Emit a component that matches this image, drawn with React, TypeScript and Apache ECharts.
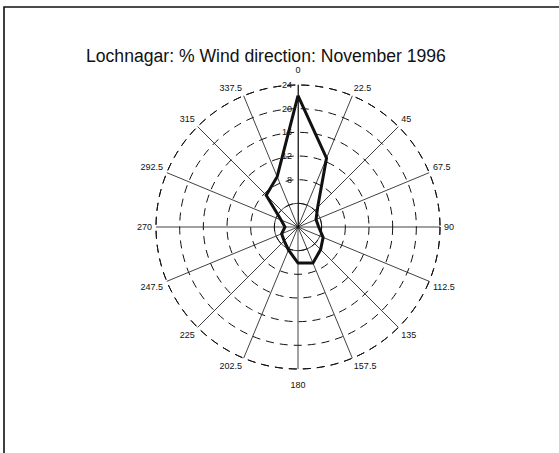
import React, { useEffect, useRef } from "react";
import * as echarts from "echarts";

const titleText = "Lochnagar: % Wind direction: November 1996";
const directions = [0, 22.5, 45, 67.5, 90, 112.5, 135, 157.5, 180, 202.5, 225, 247.5, 270, 292.5, 315, 337.5];
const percent = [22.2, 12.6, 4.7, 3.3, 3.5, 4.6, 5.4, 6.6, 6.1, 4.2, 3.3, 3.0, 2.2, 3.1, 7.6, 9.2];
const radiusTicks = [8, 12, 16, 20, 24];

const FONT = "'Liberation Sans', Arial, Helvetica, sans-serif";

export default function App() {
  const ref = useRef<HTMLDivElement>(null);
  useEffect(() => {
    document.body.style.margin = "0";
    const chart = echarts.init(ref.current!, null, { renderer: "svg" });
    const data: number[][] = directions.map((d, i) => [percent[i], d]);
    data.push([percent[0], 360]);
    const center = [298, 227];
    const R = 142;
    chart.setOption({
      animation: false,
      backgroundColor: "#fff",
      title: {
        text: titleText,
        left: 81,
        top: 42,
        textStyle: { fontFamily: FONT, fontSize: 17.6, lineHeight: 18, fontWeight: "normal", color: "#111" },
      },
      graphic: [
        {
          type: "rect",
          shape: { x: 4, y: 7, width: 600, height: 500 },
          style: { fill: "none", stroke: "#111", lineWidth: 1.6 },
          silent: true,
        },
      ],
      polar: [
        { center, radius: R },
        { center, radius: (R * 4) / 24 },
      ],
      angleAxis: [
        {
          polarIndex: 0,
          type: "value",
          min: 0,
          max: 360,
          interval: 22.5,
          startAngle: 90,
          clockwise: true,
          axisLine: { show: true, lineStyle: { color: "#111", width: 1, type: [8, 6] } },
          axisTick: { show: false },
          splitLine: { show: true, lineStyle: { color: "#111", width: 0.8 } },
          axisLabel: {
            margin: 4,
            color: "#111",
            fontFamily: FONT,
            fontSize: 9,
            formatter: (v: number) => {
              if (v === 360) return "";
              if (v === 0) return "{t|0}";
              if (v === 180) return "{b|180}";
              return String(v);
            },
            rich: {
              t: { padding: [0, 0, 7, 0], fontSize: 9, fontFamily: FONT, color: "#111" },
              b: { padding: [7, 0, 0, 0], fontSize: 9, fontFamily: FONT, color: "#111" },
            },
          },
        },
        {
          polarIndex: 1,
          type: "value",
          min: 0,
          max: 360,
          startAngle: 90,
          axisLine: { show: true, lineStyle: { color: "#111", width: 0.8 } },
          axisTick: { show: false },
          axisLabel: { show: false },
          splitLine: { show: false },
        },
      ],
      radiusAxis: [
        {
          polarIndex: 0,
          type: "value",
          min: 0,
          max: 24,
          interval: 4,
          axisLine: { show: true, lineStyle: { color: "#111", width: 0.8 } },
          axisTick: { show: false },
          splitLine: { show: true, lineStyle: { color: "#111", width: 1, type: [8, 6] } },
          axisLabel: {
            margin: 6,
            color: "#111",
            fontFamily: FONT,
            fontSize: 9,
            formatter: (v: number) => (radiusTicks.indexOf(v) >= 0 ? String(v) : ""),
          },
        },
        {
          polarIndex: 1,
          type: "value",
          min: 0,
          max: 4,
          show: false,
        },
      ],
      series: [
        {
          type: "line",
          coordinateSystem: "polar",
          polarIndex: 0,
          data,
          symbol: "none",
          lineStyle: { color: "#111", width: 3, join: "miter" },
          z: 5,
        },
      ],
    });
    return () => chart.dispose();
  }, []);
  return <div ref={ref} style={{ width: 559, height: 453 }} />;
}
